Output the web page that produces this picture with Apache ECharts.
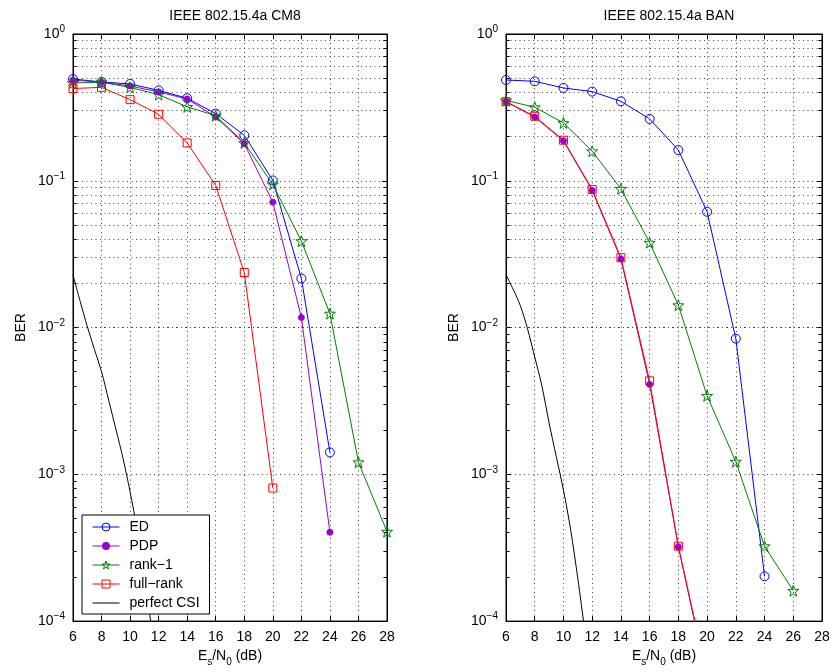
<!DOCTYPE html>
<html><head><meta charset="utf-8">
<script src="https://cdn.jsdelivr.net/npm/echarts@6/dist/echarts.min.js"></script>
<style>html,body{margin:0;padding:0;background:#fff}#c{width:835px;height:672px}</style>
</head><body><div id="c"></div>
<script>
// ---------- data ----------
const titles = ['IEEE 802.15.4a CM8', 'IEEE 802.15.4a BAN'];
const seriesNames = ['ED', 'PDP', 'rank\u22121', 'full\u2212rank', 'perfect CSI'];
const xTickMin = 6, xTickMax = 28, xTickStep = 2;
const yExpLabels = ['0', '\u22121', '\u22122', '\u22123', '\u22124'];

// CM8 (left)
const snrCM8_ED  = [6, 8, 10, 12, 14, 16, 18, 20, 22, 24];
const berCM8_ED  = [0.494, 0.471, 0.457, 0.413, 0.365, 0.287, 0.204, 0.1005, 0.0216, 0.00141];
const snrCM8_PDP = [6, 8, 10, 12, 14, 16, 18, 20, 22, 24];
const berCM8_PDP = [0.485, 0.470, 0.443, 0.403, 0.361, 0.272, 0.179, 0.0715, 0.0117, 0.000403];
const snrCM8_R1  = [6, 8, 10, 12, 14, 16, 18, 20, 22, 24, 26, 28];
const berCM8_R1  = [0.464, 0.469, 0.433, 0.386, 0.319, 0.278, 0.181, 0.0944, 0.0388, 0.01245, 0.00121, 0.000407];
const snrCM8_FR  = [6, 8, 10, 12, 14, 16, 18, 20];
const berCM8_FR  = [0.425, 0.433, 0.357, 0.284, 0.181, 0.0929, 0.0237, 0.000807];
const snrCM8_CSI = [6, 6.5, 7, 7.5, 8, 8.5, 9, 9.5, 10, 10.5, 11, 11.5, 12];
const berCM8_CSI = [0.0229, 0.0151, 0.0102, 0.0071, 0.0050, 0.0032, 0.00204, 0.00129, 0.00076, 0.00042, 0.00021, 0.000089, 0.000035];

// BAN (right)
const snrBAN_ED  = [6, 8, 10, 12, 14, 16, 18, 20, 22, 24];
const berBAN_ED  = [0.486, 0.476, 0.429, 0.405, 0.348, 0.264, 0.162, 0.0615, 0.0084, 0.000202];
const snrBAN_PDP = [6, 8, 10, 12, 14, 16, 18, 20];
const berBAN_PDP = [0.345, 0.272, 0.187, 0.086, 0.0293, 0.0041, 0.00032, 0.00004];
const snrBAN_R1  = [6, 8, 10, 12, 14, 16, 18, 20, 22, 24, 26];
const berBAN_R1  = [0.353, 0.317, 0.248, 0.159, 0.0882, 0.0379, 0.0142, 0.00343, 0.00122, 0.000324, 0.000161];
const snrBAN_FR  = [6, 8, 10, 12, 14, 16, 18, 20];
const berBAN_FR  = [0.346, 0.275, 0.189, 0.0873, 0.0299, 0.00433, 0.000324, 0.000042];
const snrBAN_CSI = [6, 6.5, 7, 7.5, 8, 8.5, 9, 9.5, 10, 10.5, 11, 11.5, 12];
const berBAN_CSI = [0.0229, 0.0182, 0.0141, 0.0098, 0.0063, 0.0040, 0.00224, 0.00132, 0.00078, 0.00042, 0.000195, 0.000083, 0.000032];

// ---------- styling ----------
const FONT = 'Liberation Sans, Arial, Helvetica, sans-serif';
const C_ED = '#0000ff', C_PDP = '#9900cc', C_R1 = '#008000', C_FR = '#ff0000', C_CSI = '#000000';
const CLEAR = 'rgba(255,255,255,0)';
const STAR = 'path://M0,-10 L2.35,-3.24 L9.51,-3.09 L3.8,1.24 L5.88,8.09 L0,4 L-5.88,8.09 L-3.8,1.24 L-9.51,-3.09 L-2.35,-3.24 Z';
const GRIDC = '#444';
const DOT = [1, 3.5];

const grids = [
  {left: 73, top: 34, width: 314, height: 588, show: true, borderColor: '#000', borderWidth: 1},
  {left: 506, top: 34, width: 316, height: 588, show: true, borderColor: '#000', borderWidth: 1}
];

function pairs(xs, ys) { return xs.map((x, i) => [x, ys[i]]); }

const minorVals = [];
for (let k = -4; k < 0; k++) for (let m = 2; m <= 9; m++) minorVals.push(+(m * Math.pow(10, k)).toPrecision(3));

function gridMarkLine() {
  const d = [];
  minorVals.forEach(v => d.push({yAxis: v}));
  minorVals.forEach(v => {
    d.push([{coord: [xTickMin, v], lineStyle: {type: 'solid', color: '#000'}}, {coord: [xTickMin + 0.25, v]}]);
    d.push([{coord: [xTickMax - 0.25, v], lineStyle: {type: 'solid', color: '#000'}}, {coord: [xTickMax, v]}]);
  });
  return {
    silent: true, symbol: ['none', 'none'], z: 1, animation: false,
    label: {show: false},
    lineStyle: {color: GRIDC, type: DOT, width: 1},
    emphasis: {disabled: true},
    data: d
  };
}

function mk(name, xs, ys, gi, color, symbol, size, filled) {
  return {
    name: name, type: 'line', xAxisIndex: gi * 2, yAxisIndex: gi * 2,
    data: pairs(xs, ys), clip: true,
    symbol: symbol, symbolSize: size, showSymbol: symbol !== 'none',
    lineStyle: {color: color, width: 1},
    itemStyle: {color: filled ? color : CLEAR, borderColor: color, borderWidth: 1},
    emphasis: {disabled: true}, animation: false, z: 3
  };
}

const series = [];
const sets = [
  [[snrCM8_ED, berCM8_ED], [snrCM8_PDP, berCM8_PDP], [snrCM8_R1, berCM8_R1], [snrCM8_FR, berCM8_FR], [snrCM8_CSI, berCM8_CSI]],
  [[snrBAN_ED, berBAN_ED], [snrBAN_PDP, berBAN_PDP], [snrBAN_R1, berBAN_R1], [snrBAN_FR, berBAN_FR], [snrBAN_CSI, berBAN_CSI]]
];
sets.forEach((s, gi) => {
  series.push(mk(seriesNames[0], s[0][0], s[0][1], gi, C_ED, 'circle', 9, false));
  series.push(mk(seriesNames[1], s[1][0], s[1][1], gi, C_PDP, 'circle', 6, true));
  series.push(mk(seriesNames[2], s[2][0], s[2][1], gi, C_R1, STAR, 11, false));
  series.push(mk(seriesNames[3], s[3][0], s[3][1], gi, C_FR, 'rect', 8, false));
  const csi = mk(seriesNames[4], s[4][0], s[4][1], gi, C_CSI, 'none', 0, true);
  csi.smooth = 0.3;
  csi.markLine = gridMarkLine();
  series.push(csi);
});

const xAxes = [], yAxes = [];
[0, 1].forEach(gi => {
  xAxes.push({
    type: 'value', gridIndex: gi, min: xTickMin, max: xTickMax, interval: xTickStep, position: 'bottom',
    axisLine: {show: true, lineStyle: {color: '#000', width: 1}},
    axisTick: {show: true, inside: true, length: 5, lineStyle: {color: '#000'}},
    axisLabel: {color: '#000', fontSize: 14, fontFamily: FONT, margin: 9},
    splitLine: {show: true, lineStyle: {color: GRIDC, type: DOT, width: 1}},
    name: '{n|E}{s|s}{n|/N}{s|0}{n| (dB)}', nameLocation: 'middle', nameGap: 25,
    nameTextStyle: {fontFamily: FONT, color: '#000', rich: {
      n: {fontSize: 14, fontFamily: FONT, color: '#000', verticalAlign: 'bottom', padding: [0, 0, 4, 0]},
      s: {fontSize: 10, fontFamily: FONT, color: '#000', verticalAlign: 'bottom'}
    }}
  });
  xAxes.push({
    type: 'value', gridIndex: gi, min: xTickMin, max: xTickMax, interval: xTickStep, position: 'top',
    axisLine: {show: true, lineStyle: {color: '#000', width: 1}},
    axisTick: {show: true, inside: true, length: 5, lineStyle: {color: '#000'}},
    axisLabel: {show: false}, splitLine: {show: false}
  });
  yAxes.push({
    type: 'log', logBase: 10, gridIndex: gi, min: 1e-4, max: 1, interval: 1, position: 'left',
    axisLine: {show: true, lineStyle: {color: '#000', width: 1}},
    axisTick: {show: true, inside: true, length: 5, lineStyle: {color: '#000'}},
    axisLabel: {
      margin: 8, fontFamily: FONT, color: '#000',
      formatter: v => '{b|10}{s|' + yExpLabels[Math.round(-Math.log10(v))] + '}',
      rich: {
        b: {fontSize: 14, fontFamily: FONT, color: '#000'},
        s: {fontSize: 10, fontFamily: FONT, color: '#000', padding: [0, 0, 9, 0]}
      }
    },
    splitLine: {show: true, lineStyle: {color: GRIDC, type: DOT, width: 1}},
    name: 'BER', nameLocation: 'middle', nameGap: 45, nameRotate: 90,
    nameTextStyle: {fontSize: 14, fontFamily: FONT, color: '#000'}
  });
  yAxes.push({
    type: 'log', logBase: 10, gridIndex: gi, min: 1e-4, max: 1, interval: 1, position: 'right',
    axisLine: {show: true, lineStyle: {color: '#000', width: 1}},
    axisTick: {show: true, inside: true, length: 5, lineStyle: {color: '#000'}},
    axisLabel: {show: false}, splitLine: {show: false}
  });
});

const legendStyles = [
  {color: CLEAR, borderColor: C_ED, borderWidth: 1},
  {color: C_PDP, borderColor: C_PDP, borderWidth: 0},
  {color: CLEAR, borderColor: C_R1, borderWidth: 1},
  {color: CLEAR, borderColor: C_FR, borderWidth: 1},
  {opacity: 0}
];
const legendData = seriesNames.map((n, i) => ({name: n, itemStyle: legendStyles[i]}));

const option = {
  backgroundColor: '#fff',
  animation: false,
  title: [
    {text: titles[0], left: 230, top: 4, textAlign: 'center', textStyle: {fontSize: 14, fontWeight: 'normal', fontFamily: FONT, color: '#000'}},
    {text: titles[1], left: 664, top: 4, textAlign: 'center', textStyle: {fontSize: 14, fontWeight: 'normal', fontFamily: FONT, color: '#000'}}
  ],
  grid: grids,
  xAxis: xAxes,
  yAxis: yAxes,
  legend: {
    data: legendData, orient: 'vertical', left: 82, top: 515,
    backgroundColor: '#fff', borderColor: '#000', borderWidth: 1, borderRadius: 0,
    padding: [5, 10, 4, 10], itemGap: 5, itemWidth: 27, itemHeight: 10,
    lineStyle: {width: 1},
    textStyle: {fontSize: 14, fontFamily: FONT, color: '#000', padding: [0, 0, 0, 5]},
    selectedMode: false
  },
  series: series
};

const chart = echarts.init(document.getElementById('c'), null, {renderer: 'canvas'});
chart.setOption(option);
</script></body></html>
